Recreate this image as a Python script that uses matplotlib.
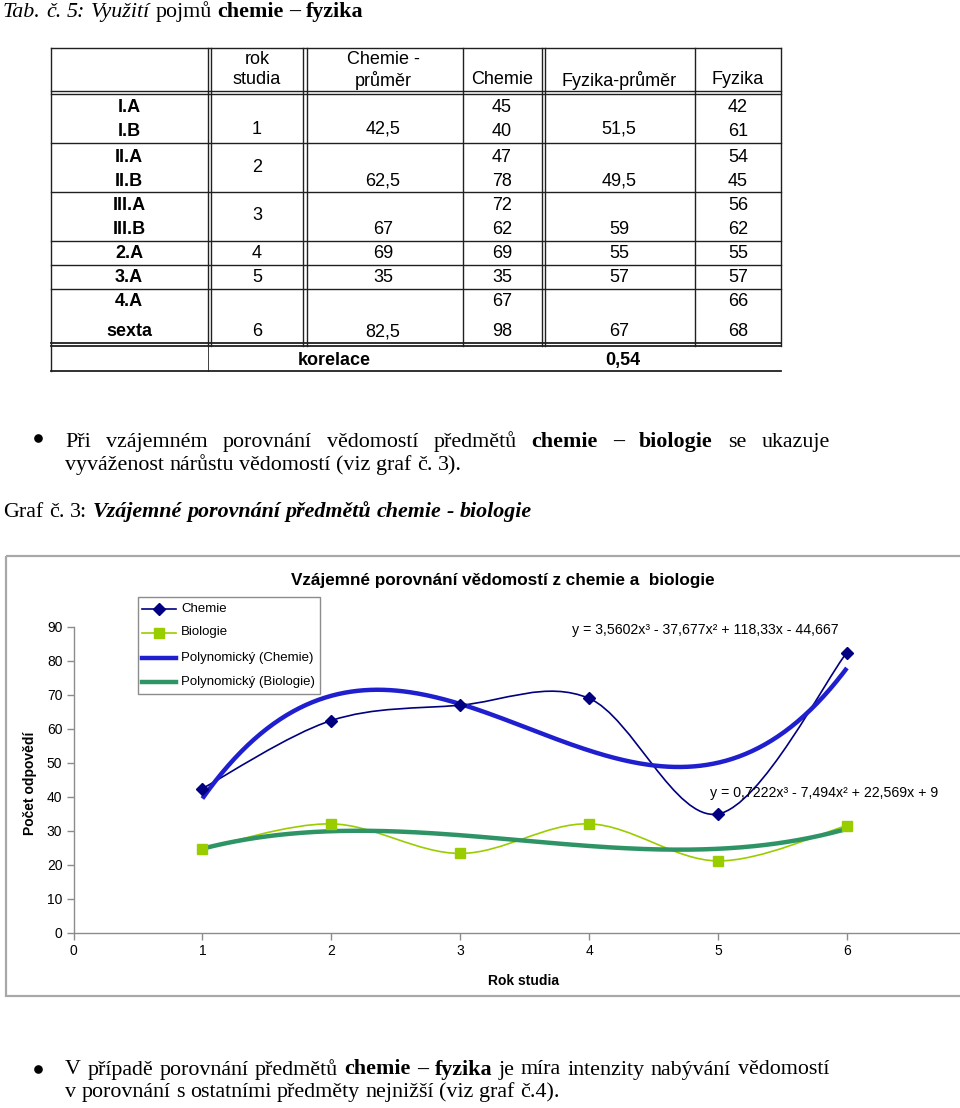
import matplotlib
matplotlib.use("Agg")
import matplotlib.pyplot as plt
import numpy as np
from matplotlib.path import Path
from matplotlib.patches import PathPatch, Rectangle
from matplotlib.lines import Line2D
from matplotlib.font_manager import FontProperties

plt.rcParams['font.family'] = ['Liberation Sans', 'DejaVu Sans']

# ---------------- data ----------------
classes = ["I.A", "I.B", "II.A", "II.B", "III.A", "III.B", "2.A", "3.A", "4.A", "sexta"]
chem_class = [45, 40, 47, 78, 72, 62, 69, 35, 67, 98]
fyz_class = [42, 61, 54, 45, 56, 62, 55, 57, 66, 68]
rok_studia = [1, 2, 3, 4, 5, 6]
chem_avg = [42.5, 62.5, 67, 69, 35, 82.5]
fyz_avg = [51.5, 49.5, 59, 55, 57, 67]
korelace = 0.54

years = [1, 2, 3, 4, 5, 6]
chemie = [42.5, 62.5, 67, 69, 35, 82.5]
biologie = [24.7, 32.1, 23.4, 32.1, 21.2, 31.6]
trend_chem = [3.5602, -37.677, 118.33, -44.667]
trend_bio = [0.7222, -7.494, 22.569, 9]
x_ticks = [0, 1, 2, 3, 4, 5, 6]
y_ticks = [0, 10, 20, 30, 40, 50, 60, 70, 80, 90]

W, H = 960, 1108
fig = plt.figure(figsize=(W / 100, H / 100), dpi=100)
fig.patch.set_facecolor('white')

# ---------------- chart axes ----------------
x0px, unit, y0px, per10 = 73.5, 128.9, 933.0, 34.0
ax = fig.add_axes([x0px / W, (H - y0px) / H, 7 * unit / W, 9 * per10 / H], zorder=1)
ax.patch.set_alpha(0)
ax.set_xlim(0, 7)
ax.set_ylim(0, 90)
for s in ['top', 'right']:
    ax.spines[s].set_visible(False)
for s in ['left', 'bottom']:
    ax.spines[s].set_color('#8c8c8c')
    ax.spines[s].set_linewidth(1.0)
ax.set_xticks(x_ticks)
ax.set_yticks(y_ticks)
ax.tick_params(direction='out', length=5, width=1, color='#8c8c8c', labelsize=10, pad=3)


def smooth_path(xs, ys):
    pts = np.column_stack([xs, ys]).astype(float)
    n = len(pts)
    verts = [pts[0]]
    codes = [Path.MOVETO]
    for i in range(n - 1):
        p0 = pts[i - 1] if i > 0 else pts[i]
        p1 = pts[i]
        p2 = pts[i + 1]
        p3 = pts[i + 2] if i + 2 < n else pts[i + 1]
        c1 = p1 + (p2 - p0) / 6.0
        c2 = p2 - (p3 - p1) / 6.0
        verts += [c1, c2, p2]
        codes += [Path.CURVE4] * 3
    return Path(verts, codes)


c_chem = '#000080'
c_bio = '#9ACD00'
c_tchem = '#1F1FCF'
c_tbio = '#2E9466'

ax.add_patch(PathPatch(smooth_path(years, chemie), fill=False, edgecolor=c_chem, lw=1.2, zorder=2))
ax.add_patch(PathPatch(smooth_path(years, biologie), fill=False, edgecolor=c_bio, lw=1.2, zorder=2))
xt = np.linspace(years[0], years[-1], 300)
ax.plot(xt, np.polyval(trend_chem, xt), color=c_tchem, lw=3.2, zorder=3, solid_capstyle='butt')
ax.plot(xt, np.polyval(trend_bio, xt), color=c_tbio, lw=3.2, zorder=3, solid_capstyle='butt')
ax.plot(years, chemie, ls='none', marker='D', ms=6.5, color=c_chem, zorder=4)
ax.plot(years, biologie, ls='none', marker='s', ms=6.5, color=c_bio, zorder=4)

# ---------------- overlay (pixel coordinates) ----------------
ov = fig.add_axes([0, 0, 1, 1], zorder=5)
ov.set_xlim(0, W)
ov.set_ylim(H, 0)
ov.axis('off')
ov.patch.set_alpha(0)
renderer = fig.canvas.get_renderer()

# chart frame
ov.add_patch(Rectangle((5.5, 556), 970, 440, fill=False, edgecolor='#a8a8a8', lw=1.6))
ov.text(503, 580, "Vzájemné porovnání vědomostí z chemie a  biologie", ha='center', va='center',
        fontsize=12.3, fontweight='bold')
ov.text(30, 783, "Počet odpovědí", rotation=90, ha='center', va='center', fontsize=10, fontweight='bold')
ov.text(524, 981, "Rok studia", ha='center', va='center', fontsize=10, fontweight='bold')


def fmt(v):
    return f"{v:g}".replace('.', ',')


def eq_text(c):
    s = "y = " + fmt(c[0]) + "x³"
    s += (" - " if c[1] < 0 else " + ") + fmt(abs(c[1])) + "x²"
    s += (" - " if c[2] < 0 else " + ") + fmt(abs(c[2])) + "x"
    s += (" - " if c[3] < 0 else " + ") + fmt(abs(c[3]))
    return s


ov.text(572, 630, eq_text(trend_chem), ha='left', va='center', fontsize=10.2)
ov.text(710, 793, eq_text(trend_bio), ha='left', va='center', fontsize=10.2)

# legend
ov.add_patch(Rectangle((138, 596.5), 182, 97.5, facecolor='white', edgecolor='#8c8c8c', lw=1.0))
leg = [("Chemie", c_chem, 1.2, 'D'), ("Biologie", c_bio, 1.2, 's'),
       ("Polynomický (Chemie)", c_tchem, 3.2, None), ("Polynomický (Biologie)", c_tbio, 3.2, None)]
for i, (lab, col, lw, mk) in enumerate(leg):
    yy = [608.5, 632.5, 657.5, 682][i]
    ov.add_line(Line2D([142, 176], [yy, yy], color=col, lw=lw))
    if mk:
        ov.add_line(Line2D([159], [yy], marker=mk, ms=6.5, color=col, ls='none'))
    ov.text(181, yy, lab, ha='left', va='center', fontsize=9.5)

# ---------------- table ----------------
lc = '#202020'


def hl(y, x1, x2, lw=1.0):
    ov.add_line(Line2D([x1, x2], [y, y], color=lc, lw=lw))


def vl(x, y1, y2, lw=1.0):
    ov.add_line(Line2D([x, x], [y1, y2], color=lc, lw=lw))


TL, TR = 50.5, 781
hl(47.5, TL, TR)
hl(90.5, TL, TR); hl(93.5, TL, TR)
for y in [143.3, 192.3, 240.7, 265, 289]:
    hl(y, TL, TR)
hl(342.5, TL, TR, 1.3); hl(345.5, TL, TR, 1.3)
hl(371, TL, TR, 1.3)
vl(TL, 47.5, 371)
for x in [208, 211, 303, 306.5, 541.5, 544.5]:
    vl(x, 47.5, 345.5)
for x in [463, TR]:
    vl(x, 47.5, 345.5)
vl(695, 47.5, 345.5)
vl(208, 345.5, 371, 0.6)

fs = 13
ov.text(257, 59, "rok", ha='center', va='center', fontsize=fs)
ov.text(257, 80, "studia", ha='center', va='center', fontsize=fs)
ov.text(383, 59, "Chemie -", ha='center', va='center', fontsize=fs)
ov.text(383, 80, "průměr", ha='center', va='center', fontsize=fs)
ov.text(502, 80, "Chemie", ha='center', va='center', fontsize=fs)
ov.text(619, 80, "Fyzika-průměr", ha='center', va='center', fontsize=fs)
ov.text(738, 80, "Fyzika", ha='center', va='center', fontsize=fs)

row_y = [108, 132, 157, 181, 205.5, 230, 253, 278, 302, 332]
for c, y, ch, fy in zip(classes, row_y, chem_class, fyz_class):
    ov.text(129, y, c, ha='center', va='center', fontsize=fs, fontweight='bold')
    ov.text(502, y, fmt(ch), ha='center', va='center', fontsize=fs)
    ov.text(738, y, fmt(fy), ha='center', va='center', fontsize=fs)
rok_y = [129, 168, 216, 253, 278, 332]
avg_y = [129, 181, 230, 253, 278, 332]
for r, yr, ya, ca, fa in zip(rok_studia, rok_y, avg_y, chem_avg, fyz_avg):
    ov.text(257, yr, str(r), ha='center', va='center', fontsize=fs)
    ov.text(383, ya, fmt(ca), ha='center', va='center', fontsize=fs)
    ov.text(619, ya, fmt(fa), ha='center', va='center', fontsize=fs)
ov.text(334, 360.5, "korelace", ha='center', va='center', fontsize=fs, fontweight='bold')
ov.text(623, 360.5, fmt(korelace), ha='center', va='center', fontsize=fs, fontweight='bold')

# ---------------- serif text ----------------
SZ = 15.8
FP = {
    'r': FontProperties(family='Liberation Serif', size=SZ),
    'b': FontProperties(family='Liberation Serif', size=SZ, weight='bold'),
    'i': FontProperties(family='Liberation Serif', size=SZ, style='italic'),
    'bi': FontProperties(family='Liberation Serif', size=SZ, style='italic', weight='bold'),
}


def width(s, fp):
    t = ov.text(0, 0, s, fontproperties=fp)
    w = t.get_window_extent(renderer).width
    t.remove()
    return w


SPACE = width("a a", FP['r']) - width("aa", FP['r'])


def place_line(tokens, x0, y, x1=None):
    ws = [width(w, FP[st]) for w, st in tokens]
    gap = SPACE
    if x1 is not None and len(tokens) > 1:
        gap = (x1 - x0 - sum(ws)) / (len(tokens) - 1)
    x = x0
    for (w, st), wd in zip(tokens, ws):
        ov.text(x, y, w, fontproperties=FP[st], ha='left', va='baseline')
        x += wd + gap


def toks(s, style='r', bold_words=()):
    out = []
    for w in s.split():
        out.append((w, 'b' if w in bold_words else style))
    return out


place_line([("Tab.", 'i'), ("č.", 'i'), ("5:", 'i'), ("Využití", 'i'), ("pojmů", 'r'),
            ("chemie", 'b'), ("–", 'b'), ("fyzika", 'b')], 3, 17)

ov.add_line(Line2D([38], [438], marker='o', ms=5.2, color='black', ls='none'))
place_line(toks("Při vzájemném porovnání vědomostí předmětů chemie – biologie se ukazuje",
                bold_words=("chemie", "–", "biologie")), 65, 447, 830)
place_line(toks("vyváženost nárůstu vědomostí (viz graf č. 3)."), 65, 470)

place_line([("Graf", 'r'), ("č.", 'r'), ("3:", 'r'), ("Vzájemné", 'bi'), ("porovnání", 'bi'),
            ("předmětů", 'bi'), ("chemie", 'bi'), ("-", 'bi'), ("biologie", 'bi')], 3, 517)

ov.add_line(Line2D([38], [1069], marker='o', ms=5.2, color='black', ls='none'))
place_line(toks("V případě porovnání předmětů chemie – fyzika je míra intenzity nabývání vědomostí",
                bold_words=("chemie", "–", "fyzika")), 65, 1074.5, 829)
place_line(toks("v porovnání s ostatními předměty nejnižší (viz graf č.4)."), 65, 1097)

fig.savefig("out.png", dpi=100, facecolor='white')
